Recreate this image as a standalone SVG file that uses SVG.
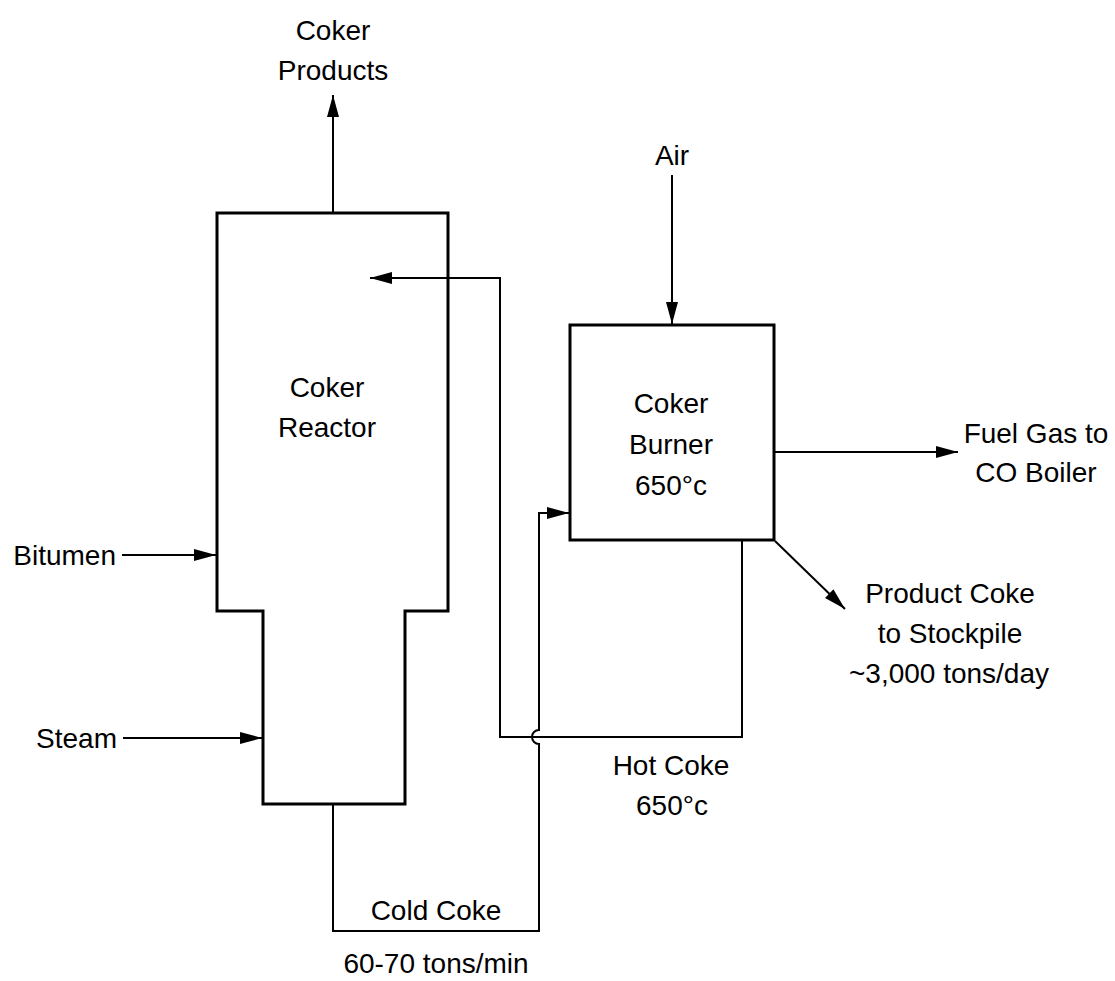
<svg xmlns="http://www.w3.org/2000/svg" width="1115" height="981" viewBox="0 0 1115 981">
<style>
text{font-family:"Liberation Sans",Arial,sans-serif;font-size:28px;fill:#000}
.c{text-anchor:middle}
.e{text-anchor:end}
.vessel{fill:none;stroke:#000;stroke-width:3;stroke-linejoin:miter}
.flow{fill:none;stroke:#000;stroke-width:2}
.arr{marker-end:url(#ah)}
</style>
<defs>
<marker id="ah" markerUnits="userSpaceOnUse" markerWidth="24" markerHeight="14" refX="22" refY="6" orient="auto">
<path d="M0,0 L22,6 L0,12 z" fill="#000"/>
</marker>
</defs>
<rect width="1115" height="981" fill="#fff"/>
<g id="connectors">
<path class="flow arr" d="M333,212 V95"/>
<path class="flow arr" d="M672,175 V324"/>
<path class="flow arr" d="M775,452 H958"/>
<path class="flow arr" d="M775,541 L845,609"/>
<path class="flow arr" d="M122,555 H216"/>
<path class="flow arr" d="M123,738 H262"/>
<path class="flow arr" d="M742,541 V737 H500 V278 H370"/>
<path class="flow arr" d="M333,805 V931 H539 V744 A7,7 0 0 1 539,730 V513 H569"/>
</g>
<g id="reactor">
<path class="vessel" d="M217,213 H448 V611 H405 V804 H263 V611 H217 Z"/>
<text class="c" x="327" y="397">Coker</text>
<text class="c" x="327" y="437">Reactor</text>
</g>
<g id="burner">
<rect class="vessel" x="570" y="325" width="204" height="215"/>
<text class="c" x="671" y="413">Coker</text>
<text class="c" x="671" y="454">Burner</text>
<text class="c" x="671" y="495">650°c</text>
</g>
<g id="coker-products">
<text class="c" x="333" y="40">Coker</text>
<text class="c" x="333" y="80">Products</text>
</g>
<g id="air"><text class="c" x="672" y="165">Air</text></g>
<g id="fuel-gas">
<text class="c" x="1036" y="443">Fuel Gas to</text>
<text class="c" x="1036" y="482">CO Boiler</text>
</g>
<g id="bitumen"><text class="e" x="116" y="565">Bitumen</text></g>
<g id="steam"><text class="e" x="117" y="748">Steam</text></g>
<g id="product-coke">
<text class="c" x="950" y="603">Product Coke</text>
<text class="c" x="950" y="643">to Stockpile</text>
<text class="c" x="949" y="683">~3,000 tons/day</text>
</g>
<g id="hot-coke">
<text class="c" x="671" y="775">Hot Coke</text>
<text class="c" x="672" y="815">650°c</text>
</g>
<g id="cold-coke">
<text class="c" x="436" y="920">Cold Coke</text>
<text class="c" x="436" y="973">60-70 tons/min</text>
</g>
</svg>
